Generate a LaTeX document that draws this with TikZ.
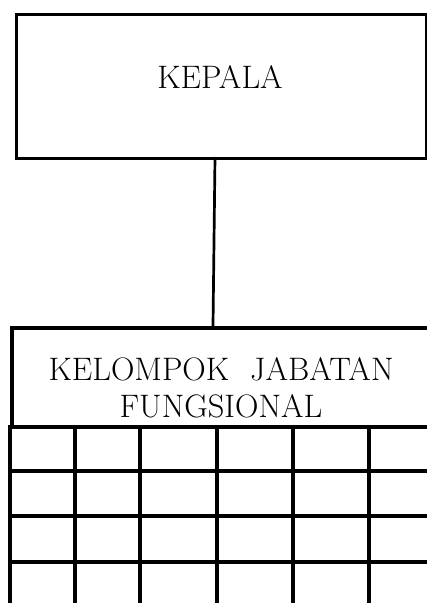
\documentclass[tikz,border=0pt]{standalone}
\begin{document}
\begin{tikzpicture}[x=1pt,y=1pt,
  boxline/.style={line width=2.8pt},
  thickline/.style={line width=4pt},
  txt/.style={font=\fontsize{32.5}{37}\selectfont, inner sep=0pt, anchor=base}]
\useasboundingbox (0,0) rectangle (427,-603);
\clip (0,0) rectangle (427,-603);
% KEPALA box
\node[boxline, draw, rectangle, minimum width=410pt, minimum height=144pt, anchor=north west, inner sep=0pt] (kepala) at (15,-13) {};
\node[txt] (kepalatext) at (220,-88) {KEPALA};
% Kelompok box header
\node[thickline, draw, rectangle, minimum width=440pt, minimum height=99pt, anchor=north west, inner sep=0pt] (kjf) at (10,-326) {};
\node[txt] (kjfline1) at (221,-380) {KELOMPOK\hspace{21pt}JABATAN};
\node[txt] (kjfline2) at (221,-417) {FUNGSIONAL};
% connector
\coordinate (ctop) at (215,-157);
\coordinate (cbot) at (213,-326);
\draw[line width=2.7pt] (ctop) -- (cbot);
% grid
\draw[thickline] (10,-425) -- (10,-610);
\foreach \y in {471,516,562} \draw[thickline] (10,-\y) -- (440,-\y);
\foreach \x in {75,140,217,293,369} \draw[thickline] (\x,-425) -- (\x,-610);
\end{tikzpicture}
\end{document}
